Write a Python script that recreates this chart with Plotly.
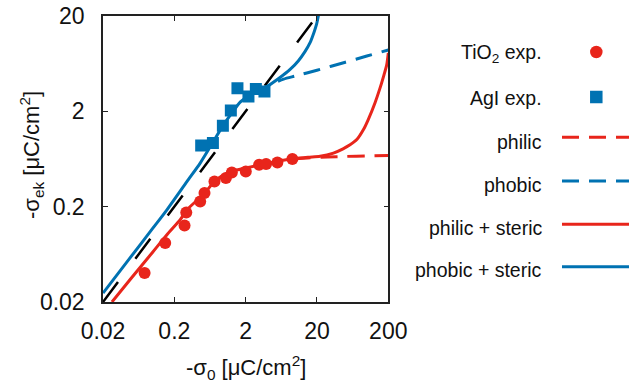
import plotly.graph_objects as go

# ---------------- data ----------------
tio2_x = [0.0766, 0.149, 0.278, 0.294, 0.461, 0.530, 0.731, 1.057, 1.28, 2.01, 3.09, 3.87, 5.57, 9.04]
tio2_y = [0.0403, 0.083, 0.127, 0.174, 0.227, 0.278, 0.367, 0.399, 0.457, 0.468, 0.55, 0.56, 0.581, 0.631]

agi_x = [0.476, 0.695, 0.959, 1.24, 1.535, 2.19, 2.78, 3.67]
agi_y = [0.875, 0.929, 1.41, 2.04, 3.50, 2.86, 3.42, 3.23]

philic_steric_x = [0.0267, 0.05, 0.1, 0.1575, 0.242, 0.3, 0.4, 0.513, 0.75, 1.2, 2.0, 3.2, 5.5,
                   9.4, 15, 22.1, 34, 46.4, 58.2, 72.9, 89.3, 104, 130, 153, 174, 190, 200]
philic_steric_y = [0.02, 0.0357, 0.067, 0.1015, 0.146, 0.185, 0.227, 0.267, 0.375, 0.46, 0.508, 0.55, 0.596,
                   0.636, 0.66, 0.675, 0.73, 0.809, 0.891, 1.018, 1.28, 1.62, 2.45, 3.5, 4.83, 6.14, 8.2]

philic_x = [9.4, 16, 28, 50, 100, 200]
philic_y = [0.636, 0.652, 0.663, 0.673, 0.682, 0.689]

phobic_steric_x = [0.02, 0.05, 0.1, 0.1575, 0.3, 0.461, 0.7, 0.977, 1.3, 1.675, 2.1, 2.57, 3.96,
                   6.0, 8.4, 11, 13.5, 16, 18.3, 19.8, 20.9, 22]
phobic_steric_y = [0.0248, 0.0605, 0.119, 0.1855, 0.366, 0.573, 0.954, 1.44, 1.95, 2.5, 2.85, 3.12, 3.64,
                   4.5, 5.5, 6.8, 8.4, 10.5, 13.7, 16.5, 20, 24]

phobic_x = [2.57, 3.96, 6.8, 10, 20, 50, 100, 200]
phobic_y = [3.12, 3.64, 4.35, 4.7, 5.4, 6.55, 7.6, 8.8]

ref_x = [0.02, 20]
ref_y = [0.02, 20]

x_ticks = [0.02, 0.2, 2, 20, 200]
x_ticktext = ["0.02", "0.2", "2", "20", "200"]
y_ticks = [0.02, 0.2, 2, 20]
y_ticktext = ["0.02", "0.2", "2", "20"]

legend_labels = ["TiO<sub>2</sub> exp.", "AgI exp.", "philic", "phobic", "philic + steric", "phobic + steric"]

RED = "#E8251B"
BLUE = "#0072B2"
FONT = "Liberation Sans, Arial, sans-serif"

# ---------------- geometry ----------------
W, H = 629, 385
ML, MT, MB = 103, 16, 83
PW = W - ML  # paper width (right margin 0)
PH = H - MT - MB
plot_right = 388.3
xdom_end = (plot_right - ML) / PW
leg_dom_start = 0.55
leg_x0 = ML + leg_dom_start * PW

fig = go.Figure()

# reference line
fig.add_trace(go.Scatter(x=ref_x, y=ref_y, mode="lines",
                         line=dict(color="black", width=2.5, dash="25px,29px"),
                         xaxis="x", yaxis="y", showlegend=False))
# curves
fig.add_trace(go.Scatter(x=philic_x, y=philic_y, mode="lines",
                         line=dict(color=RED, width=3, dash="17px,10px", shape="spline", smoothing=0.7),
                         showlegend=False))
fig.add_trace(go.Scatter(x=phobic_x, y=phobic_y, mode="lines",
                         line=dict(color=BLUE, width=3, dash="17px,10px", shape="spline", smoothing=0.7),
                         showlegend=False))
fig.add_trace(go.Scatter(x=philic_steric_x, y=philic_steric_y, mode="lines",
                         line=dict(color=RED, width=3, shape="spline", smoothing=0.7),
                         showlegend=False))
fig.add_trace(go.Scatter(x=phobic_steric_x, y=phobic_steric_y, mode="lines",
                         line=dict(color=BLUE, width=3, shape="spline", smoothing=0.7),
                         showlegend=False))
# experiments
fig.add_trace(go.Scatter(x=tio2_x, y=tio2_y, mode="markers",
                         marker=dict(symbol="circle", size=12, color=RED, line=dict(width=0)),
                         showlegend=False))
fig.add_trace(go.Scatter(x=agi_x, y=agi_y, mode="markers",
                         marker=dict(symbol="square", size=12, color=BLUE, line=dict(width=0)),
                         showlegend=False))

# ---------------- custom legend (pixel-unit hidden axes) ----------------
leg_text_right = 544
baselines = [60, 105, 149, 191.7, 235, 276.7]
line_ys = [None, None, 137.3, 181, 224.3, 266.7]
styles = [
    ("marker", "circle", RED, None),
    ("marker", "square", BLUE, None),
    ("line", None, RED, "17px,10px"),
    ("line", None, BLUE, "17px,10px"),
    ("line", None, RED, None),
    ("line", None, BLUE, None),
]
for i, (lab, st) in enumerate(zip(legend_labels, styles)):
    kind, sym, col, dash = st
    if kind == "marker":
        fig.add_trace(go.Scatter(x=[596.3], y=[baselines[i] - 8], mode="markers",
                                 marker=dict(symbol=sym, size=12.5, color=col),
                                 xaxis="x2", yaxis="y2", showlegend=False))
    else:
        fig.add_trace(go.Scatter(x=[562, W], y=[line_ys[i], line_ys[i]], mode="lines",
                                 line=dict(color=col, width=3, dash=dash or "solid"),
                                 xaxis="x2", yaxis="y2", showlegend=False))
    fig.add_annotation(x=leg_text_right, y=baselines[i] - 7, xref="x2", yref="y2",
                       text=lab, showarrow=False, xanchor="right", yanchor="middle",
                       font=dict(family=FONT, size=19.5, color="#111"))

# axis titles
fig.add_annotation(x=(245.5 - ML) / PW, y=(MT + PH - 367) / PH, xref="paper", yref="paper",
                   text="-σ<sub>0</sub> [μC/cm<sup>2</sup>]", showarrow=False,
                   xanchor="center", yanchor="middle", font=dict(family=FONT, size=22, color="#111"))
fig.add_annotation(x=(31 - ML) / PW, y=(MT + PH - 155) / PH, xref="paper", yref="paper",
                   text="-σ<sub>ek</sub> [μC/cm<sup>2</sup>]", showarrow=False, textangle=-90,
                   xanchor="center", yanchor="middle", font=dict(family=FONT, size=22, color="#111"))

axis_common = dict(type="log", showgrid=False, zeroline=False, ticks="inside", ticklen=5,
                   tickwidth=1.2, tickcolor="#222", showline=True, linecolor="#222", linewidth=1.5,
                   mirror="ticks", automargin=False, tickfont=dict(family=FONT, size=23, color="#111"))

fig.update_layout(
    width=W, height=H, autosize=False,
    margin=dict(l=ML, r=0, t=MT, b=MB, pad=0, autoexpand=False),
    paper_bgcolor="white", plot_bgcolor="white",
    showlegend=False,
    xaxis=dict(range=[-1.69897, 2.30103], domain=[0, xdom_end], tickvals=x_ticks,
               ticktext=x_ticktext, ticklabelstandoff=8, anchor="y", **axis_common),
    yaxis=dict(range=[-1.69897, 1.30103], domain=[0, 1], tickvals=y_ticks,
               ticktext=y_ticktext, ticklabelstandoff=12, anchor="x", **axis_common),
    xaxis2=dict(domain=[leg_dom_start, 1], range=[leg_x0, W], visible=False, anchor="y2",
                automargin=False),
    yaxis2=dict(domain=[0, 1], range=[MT + PH, MT], visible=False, anchor="x2", automargin=False),
)

fig.write_html("out.html")
